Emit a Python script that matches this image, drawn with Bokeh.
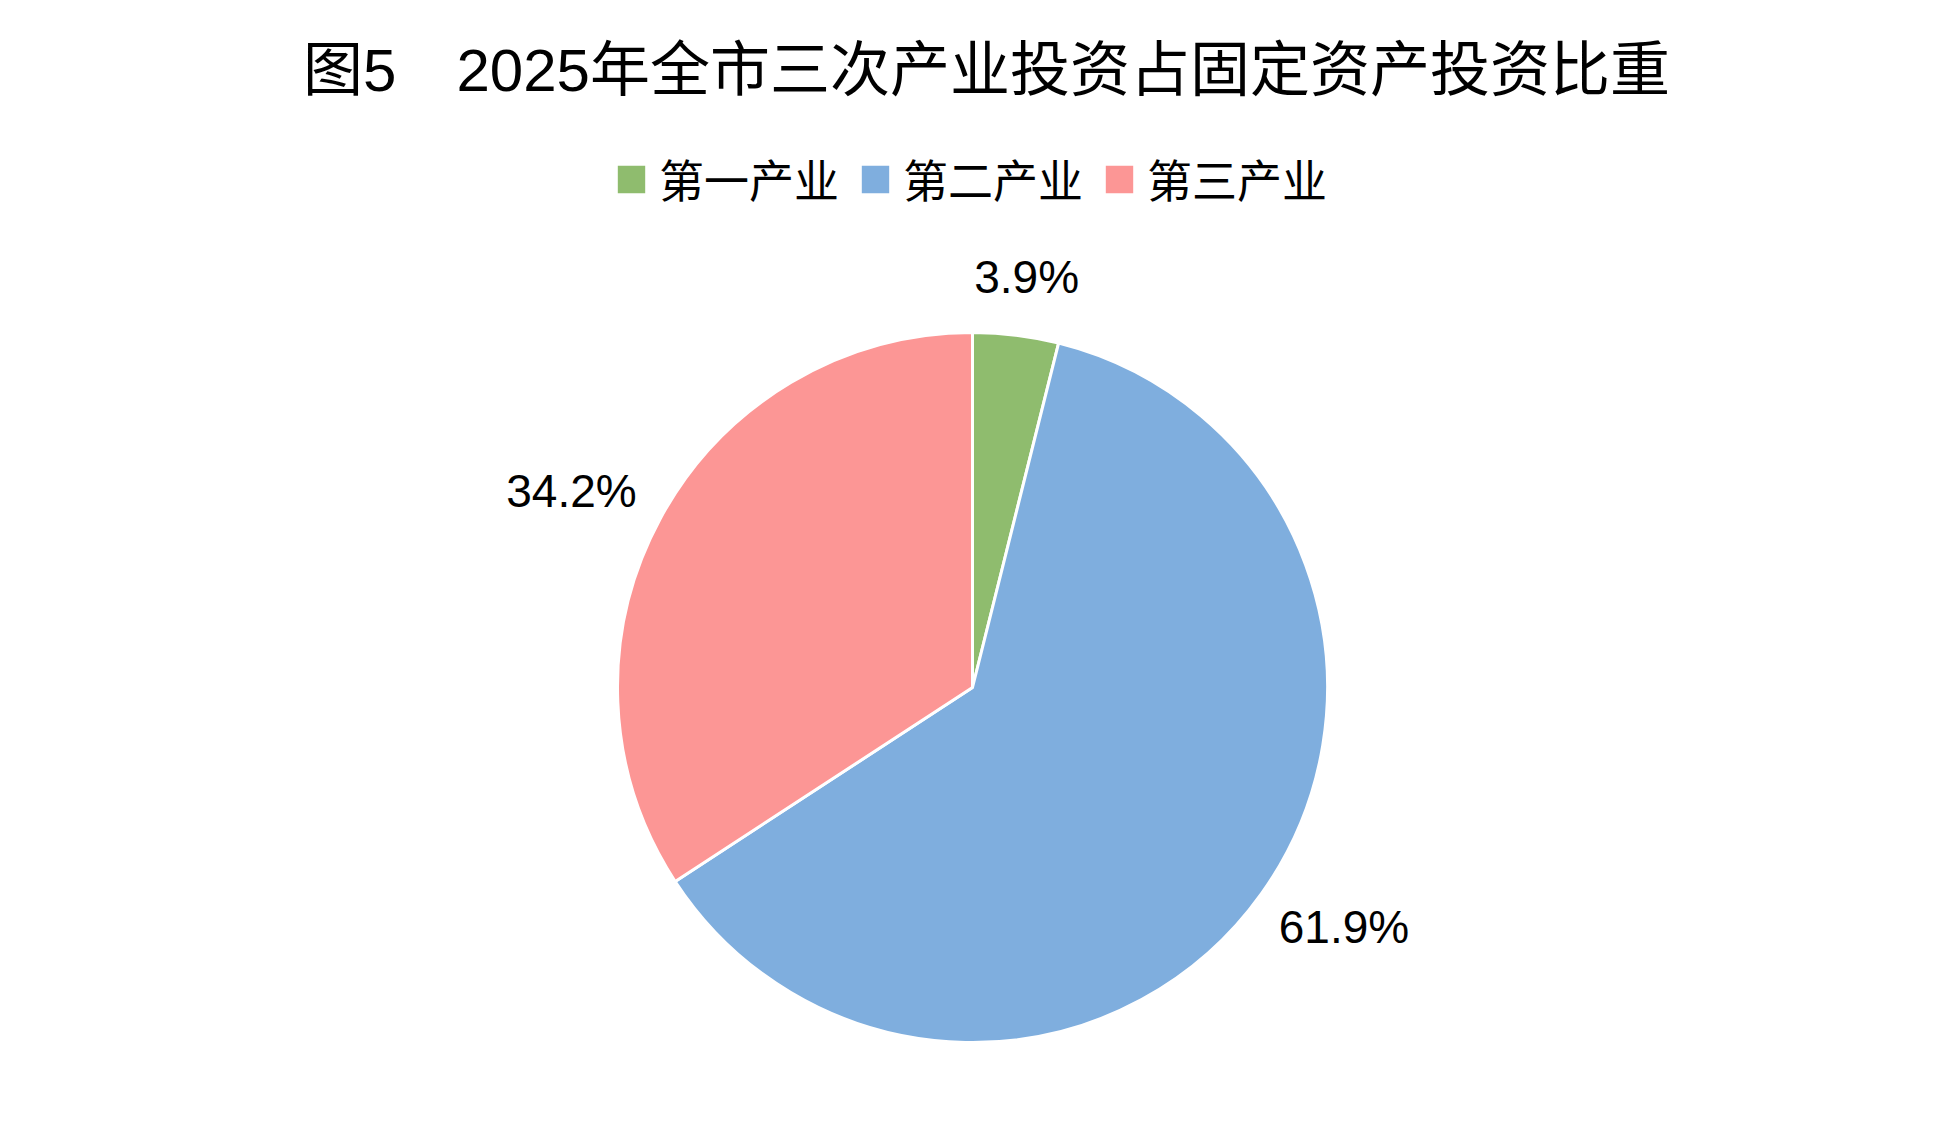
import math
from bokeh.plotting import figure
from bokeh.models import ColumnDataSource, Range1d, Legend, LegendItem
from bokeh.core.properties import value
from bokeh.embed import file_html
from bokeh.resources import INLINE

# ---- data ----
title_text = "图5\u30002025年全市三次产业投资占固定资产投资比重"
categories = ["第一产业", "第二产业", "第三产业"]
shares = [3.9, 61.9, 34.2]
colors = ["#8FBC6E", "#7FAEDE", "#FC9695"]

# ---- layout ----
W, H = 1930, 1128
CX, CY, R = 972, 441, 355
LABEL_FS = 46
LATIN = "Liberation Sans"
MIXED = "Liberation Sans, 'Noto Sans CJK SC', sans-serif"

total = sum(shares)
starts, ends, mids = [], [], []
cum = 0.0
for s in shares:
    a_end = math.pi / 2 - 2 * math.pi * cum / total
    cum += s
    a_start = math.pi / 2 - 2 * math.pi * cum / total
    starts.append(a_start)
    ends.append(a_end)
    mids.append((a_start + a_end) / 2)

labels = [f"{s:.1f}%" for s in shares]
r0 = 1.1 * R
lx, ly = [], []
for lab, m in zip(labels, mids):
    hw = len(lab) * 0.57 * LABEL_FS / 2
    hh = LABEL_FS / 2
    lx.append(CX + r0 * math.cos(m) + math.cos(m) * hw)
    ly.append(CY + r0 * math.sin(m) + math.sin(m) * hh)

src = ColumnDataSource(dict(cat=categories, share=shares, color=colors,
                            start=starts, end=ends))
lsrc = ColumnDataSource(dict(x=lx, y=ly, text=labels))

p = figure(width=W, height=H, output_backend="svg", toolbar_location=None,
           x_range=Range1d(0, W), y_range=Range1d(0, H), min_border=0,
           background_fill_color="white", border_fill_color="white")
p.axis.visible = False
p.grid.visible = False
p.outline_line_color = None

wr = p.wedge(x=CX, y=CY, radius=R, start_angle="start", end_angle="end",
             fill_color="color", line_color="white", line_width=3, source=src)

p.text(x="x", y="y", text="text", source=lsrc, text_align="center",
       text_baseline="middle", text_font=value(LATIN),
       text_font_size=f"{LABEL_FS}px", text_color="#000000")

p.text(x=[986], y=[1058], text=[title_text], text_align="center",
       text_baseline="middle", text_font=value(MIXED),
       text_font_size="60px", text_color="#000000")

legend = Legend(items=[LegendItem(label=c, renderers=[wr], index=i)
                       for i, c in enumerate(categories)],
                orientation="horizontal", location=(612, 917),
                label_text_font=MIXED, label_text_font_size="45px",
                label_text_color="#000000",
                glyph_width=38, glyph_height=38, label_standoff=9,
                spacing=17, padding=0, margin=0,
                border_line_alpha=0, background_fill_alpha=0)
p.add_layout(legend, "center")

open("out.html", "w").write(file_html(p, INLINE))
